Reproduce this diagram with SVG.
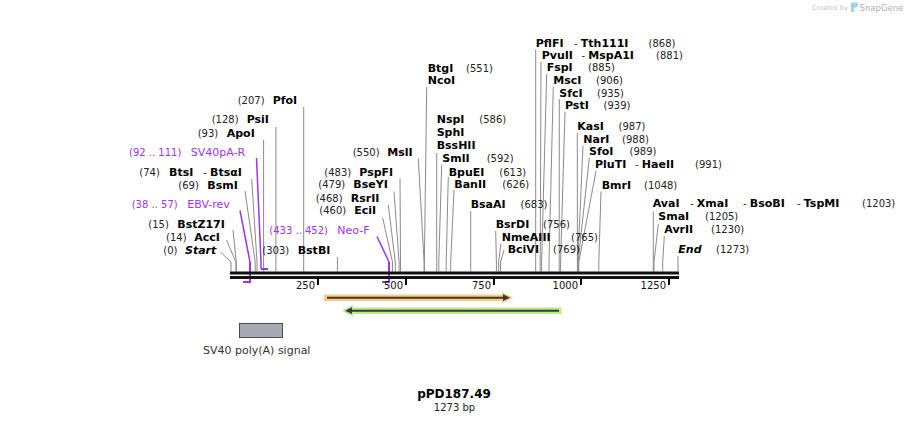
<svg xmlns="http://www.w3.org/2000/svg" width="909" height="424" viewBox="0 0 909 424">
<style>
text{font-family:"DejaVu Sans","Liberation Sans",sans-serif;font-size:10px;fill:#222}
.b{font-weight:bold;fill:#000;font-size:11px}
.bi{font-weight:bold;font-style:italic;fill:#000;font-size:11px}
.p{fill:#a033f0}
.pn{fill:#a033f0;font-size:11px}
.ln{fill:none;stroke:#8a8a8a;stroke-width:1}
.pl{fill:none;stroke:#a033f0;stroke-width:1.5}
.pb{fill:none;stroke:#a033f0;stroke-width:2}
.tk{stroke:#000;stroke-width:2}
.tl{font-size:10px;fill:#111;text-anchor:end}
</style>
<rect width="909" height="424" fill="#fff"/>

<g id="watermark">
<text x="812" y="9.5" style="font-size:6.5px;fill:#c4c4c4">Created by</text>
<path d="M851 2.5 h4.5 a2.5 2.5 0 0 1 0 5 h-1.5 v4.5 h-3 z" fill="#9ad4f2"/>
<text x="859.5" y="11" style="font-size:8.5px;fill:#b0b0b0">SnapGene</text>
</g>

<g id="connectors">
<polyline class="ln" points="303.7,107 303.7,271.5"/>
<polyline class="ln" points="275.9,127 275.9,271.5"/>
<polyline class="ln" points="263.6,140 263.6,271.5"/>
<polyline class="ln" points="251.7,179 257,262 257,271.5"/>
<polyline class="ln" points="245,191 255.2,262 255.2,271.5"/>
<polyline class="ln" points="233,230 236.3,262 236.3,271.5"/>
<polyline class="ln" points="226.5,240 235.9,262 235.9,271.5"/>
<polyline class="ln" points="220.5,252 231,262 231,271.5"/>
<polyline class="ln" points="337.4,257 337.4,271.5"/>
<polyline class="ln" points="382.7,218 392.5,262 392.5,271.5"/>
<polyline class="ln" points="388.3,205 395.3,262 395.3,271.5"/>
<polyline class="ln" points="394,191.5 399.1,262 399.1,271.5"/>
<polyline class="ln" points="400,178.5 400.5,262 400.5,271.5"/>
<polyline class="ln" points="418.3,158.5 424.1,262 424.1,271.5"/>
<polyline class="ln" points="426.7,87 424.4,262 424.4,271.5"/>
<polyline class="ln" points="436.7,153 436.7,271.5"/>
<polyline class="ln" points="441.7,164.5 438.8,262 438.8,271.5"/>
<polyline class="ln" points="448.3,177 446.2,262 446.2,271.5"/>
<polyline class="ln" points="454,190 450.7,262 450.7,271.5"/>
<polyline class="ln" points="470.7,211 470.7,271.5"/>
<polyline class="ln" points="495.7,231 496.4,262 496.4,271.5"/>
<polyline class="ln" points="501,243.5 498.6,262 498.6,271.5"/>
<polyline class="ln" points="504,250 500.5,262 500.5,271.5"/>
<polyline class="ln" points="535.7,49.5 535.7,271.5"/>
<polyline class="ln" points="541,62 540.2,262 540.2,271.5"/>
<polyline class="ln" points="546.7,74 541.6,262 541.6,271.5"/>
<polyline class="ln" points="553.3,86.5 549,262 549,271.5"/>
<polyline class="ln" points="559.3,99 559.2,262 559.2,271.5"/>
<polyline class="ln" points="565,112 560.6,262 560.6,271.5"/>
<polyline class="ln" points="577.3,133 577.4,262 577.4,271.5"/>
<polyline class="ln" points="583,145.5 577.8,262 577.8,271.5"/>
<polyline class="ln" points="589.3,158 578.1,262 578.1,271.5"/>
<polyline class="ln" points="596,171 578.8,262 578.8,271.5"/>
<polyline class="ln" points="601,191.5 598.8,262 598.8,271.5"/>
<polyline class="ln" points="653.3,211.5 653.3,262 653.3,271.5"/>
<polyline class="ln" points="658.3,224 654,262 654,271.5"/>
<polyline class="ln" points="664.3,236 662.7,262 662.7,271.5"/>
<polyline class="ln" points="678,256 678,271.5"/>
<polyline class="pl" points="256.5,158 261,262 261,269"/>
<polyline class="pb" points="261,269 268,269"/>
<polyline class="pl" points="240,210.5 250,262"/>
<polyline class="pb" points="250,262 250,282 243,282"/>
<polyline class="pl" points="377,236.5 389,262"/>
<polyline class="pb" points="389,262 389,282 382,282"/>
</g>

<g id="backbone">
<rect x="230" y="271.5" width="449" height="3" fill="#111"/>
<rect x="230" y="276" width="449" height="3" fill="#111"/>
<line class="tk" x1="318" y1="278.5" x2="318" y2="285"/>
<line class="tk" x1="406" y1="278.5" x2="406" y2="285"/>
<line class="tk" x1="494" y1="278.5" x2="494" y2="285"/>
<line class="tk" x1="581" y1="278.5" x2="581" y2="285"/>
<line class="tk" x1="669" y1="278.5" x2="669" y2="285"/>
<text class="tl" x="315" y="288.5">250</text>
<text class="tl" x="403" y="288.5">500</text>
<text class="tl" x="491" y="288.5">750</text>
<text class="tl" x="578" y="288.5">1000</text>
<text class="tl" x="666" y="288.5">1250</text>
</g>

<g id="feature-orange">
<rect x="324" y="294.5" width="182" height="6.5" fill="#fbcb7e"/>
<polygon points="502,292 513,297.7 502,303.5" fill="#fbcb7e"/>
<line x1="327" y1="297.7" x2="504" y2="297.7" stroke="#3a3a3a" stroke-width="2"/>
<polygon points="503,294.3 510,297.7 503,301.1" fill="#3a3a3a"/>
</g>

<g id="feature-green">
<rect x="350" y="307.5" width="211.5" height="6.5" fill="#b6ee84"/>
<polygon points="353,305 342,310.7 353,316.5" fill="#b6ee84"/>
<line x1="351" y1="310.7" x2="559" y2="310.7" stroke="#3a3a3a" stroke-width="2"/>
<polygon points="352,307.3 345,310.7 352,314.1" fill="#3a3a3a"/>
</g>

<g id="sv40-polyA">
<rect x="239.5" y="323.5" width="43" height="14" fill="#a6abb1" stroke="#4a4a4a" stroke-width="1"/>
<text x="203" y="354" style="font-size:11px;fill:#333">SV40 poly(A) signal</text>
</g>

<g id="PfoI"><text x="237.7" y="104">(207)</text><text class="b" x="272.7" y="104">PfoI</text></g>
<g id="PsiI"><text x="211.7" y="123.3">(128)</text><text class="b" x="246.7" y="123.3">PsiI</text></g>
<g id="ApoI"><text x="197.7" y="137.3">(93)</text><text class="b" x="226.7" y="137.3">ApoI</text></g>
<g id="SV40pA-R"><text class="p" x="129" y="156">(92 .. 111)</text><text class="pn" x="190.7" y="156">SV40pA-R</text></g>
<g id="BtsI"><text x="139.3" y="176">(74)</text><text class="b" x="169" y="176">BtsI</text><text x="203.3" y="176">- <tspan class="b">BtsαI</tspan></text></g>
<g id="BsmI"><text x="178.3" y="188.7">(69)</text><text class="b" x="207.3" y="188.7">BsmI</text></g>
<g id="EBV-rev"><text class="p" x="131.7" y="208.3">(38 .. 57)</text><text class="pn" x="187.3" y="208.3">EBV-rev</text></g>
<g id="BstZ17I"><text x="148.3" y="227.7">(15)</text><text class="b" x="177.3" y="227.7">BstZ17I</text></g>
<g id="AccI"><text x="166" y="241">(14)</text><text class="b" x="194.3" y="241">AccI</text></g>
<g id="Start"><text x="163.3" y="254">(0)</text><text class="bi" x="185" y="254">Start</text></g>
<g id="BstBI"><text x="262.3" y="254">(303)</text><text class="b" x="297.7" y="254">BstBI</text></g>
<g id="Neo-F"><text class="p" x="269.3" y="233.5">(433 .. 452)</text><text class="pn" x="337.3" y="233.5">Neo-F</text></g>
<g id="EciI"><text x="319.3" y="214.3">(460)</text><text class="b" x="354.3" y="214.3">EciI</text></g>
<g id="RsrII"><text x="315.7" y="201.7">(468)</text><text class="b" x="350.7" y="201.7">RsrII</text></g>
<g id="BseYI"><text x="318.3" y="188.3">(479)</text><text class="b" x="353.3" y="188.3">BseYI</text></g>
<g id="PspFI"><text x="324.3" y="175.7">(483)</text><text class="b" x="359.3" y="175.7">PspFI</text></g>
<g id="MslI"><text x="352.7" y="155.7">(550)</text><text class="b" x="387.3" y="155.7">MslI</text></g>
<g id="BtgI-NcoI"><text class="b" x="427.7" y="71.7">BtgI</text><text x="466" y="71.7">(551)</text><text class="b" x="427.7" y="84.3">NcoI</text></g>
<g id="NspI-SphI-BssHII"><text class="b" x="436.7" y="123.3">NspI</text><text x="479.3" y="123.3">(586)</text><text class="b" x="436.7" y="136">SphI</text><text class="b" x="436.7" y="149">BssHII</text></g>
<g id="SmlI"><text class="b" x="442.3" y="162.3">SmlI</text><text x="486.7" y="162.3">(592)</text></g>
<g id="BpuEI"><text class="b" x="448.7" y="175.7">BpuEI</text><text x="499.3" y="175.7">(613)</text></g>
<g id="BanII"><text class="b" x="454.3" y="188.3">BanII</text><text x="502.3" y="188.3">(626)</text></g>
<g id="BsaAI"><text class="b" x="470.7" y="207.7">BsaAI</text><text x="520.5" y="207.7">(683)</text></g>
<g id="BsrDI"><text class="b" x="495.7" y="227.7">BsrDI</text><text x="543" y="227.7">(756)</text></g>
<g id="NmeAIII"><text class="b" x="501.7" y="240.5">NmeAIII</text><text x="571" y="240.5">(765)</text></g>
<g id="BciVI"><text class="b" x="507.7" y="253">BciVI</text><text x="553" y="253">(769)</text></g>
<g id="PflFI"><text class="b" x="535.7" y="46.5">PflFI</text><text x="574" y="46.5">- <tspan class="b">Tth111I</tspan></text><text x="648.5" y="46.5">(868)</text></g>
<g id="PvuII"><text class="b" x="541.7" y="58.7">PvuII</text><text x="581.5" y="58.7">- <tspan class="b">MspA1I</tspan></text><text x="656" y="58.7">(881)</text></g>
<g id="FspI"><text class="b" x="546.7" y="71">FspI</text><text x="588" y="71">(885)</text></g>
<g id="MscI"><text class="b" x="553.3" y="84">MscI</text><text x="596" y="84">(906)</text></g>
<g id="SfcI"><text class="b" x="559.3" y="96.5">SfcI</text><text x="597" y="96.5">(935)</text></g>
<g id="PstI"><text class="b" x="565" y="109">PstI</text><text x="603.5" y="109">(939)</text></g>
<g id="KasI"><text class="b" x="577.3" y="130">KasI</text><text x="618.5" y="130">(987)</text></g>
<g id="NarI"><text class="b" x="583.3" y="142.5">NarI</text><text x="622" y="142.5">(988)</text></g>
<g id="SfoI"><text class="b" x="589" y="155.3">SfoI</text><text x="629.5" y="155.3">(989)</text></g>
<g id="PluTI"><text class="b" x="595" y="168.3">PluTI</text><text x="635" y="168.3">- <tspan class="b">HaeII</tspan></text><text x="695" y="168.3">(991)</text></g>
<g id="BmrI"><text class="b" x="601.7" y="189">BmrI</text><text x="644" y="189">(1048)</text></g>
<g id="AvaI"><text class="b" x="652.7" y="207">AvaI</text><text x="690" y="207">- <tspan class="b">XmaI</tspan></text><text x="743" y="207">- <tspan class="b">BsoBI</tspan></text><text x="797" y="207">- <tspan class="b">TspMI</tspan></text><text x="862" y="207">(1203)</text></g>
<g id="SmaI"><text class="b" x="658.3" y="220">SmaI</text><text x="705" y="220">(1205)</text></g>
<g id="AvrII"><text class="b" x="664.3" y="233">AvrII</text><text x="711" y="233">(1230)</text></g>
<g id="End"><text class="bi" x="678.3" y="253">End</text><text x="716" y="253">(1273)</text></g>

<g id="title">
<text x="454" y="398" text-anchor="middle" style="font-size:12px;font-weight:bold;fill:#000">pPD187.49</text>
<text x="454.5" y="411" text-anchor="middle" style="font-size:10px;fill:#222">1273 bp</text>
</g>
</svg>
